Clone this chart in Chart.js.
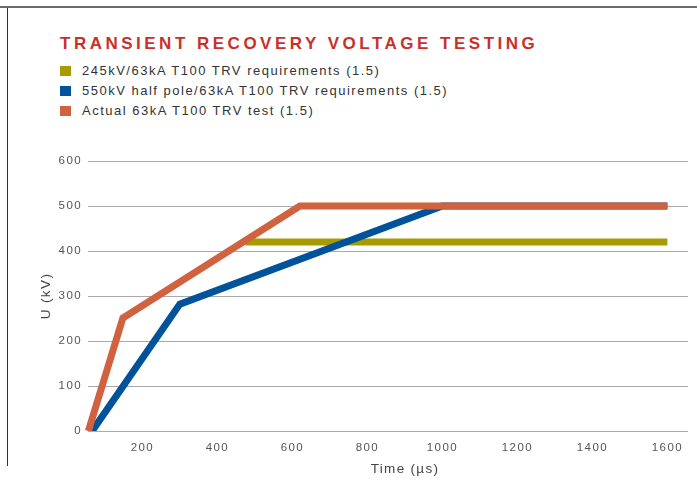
<!DOCTYPE html>
<html>
<head>
<meta charset="utf-8">
<script src="https://cdn.jsdelivr.net/npm/chart.js@4"></script>
<style>
  html, body { margin: 0; padding: 0; background: #fff; }
  #wrap { position: relative; width: 697px; height: 481px; overflow: hidden; font-family: 'Liberation Sans', Arial, sans-serif; }
  #topline { position: absolute; left: 0; top: 6px; width: 697px; height: 2px; background: #6b6b6b; }
  #leftline { position: absolute; left: 7px; top: 8px; width: 1px; height: 458px; background: #333; }
  #title { position: absolute; left: 60px; top: 34px; line-height: 20px; font-size: 17px; font-weight: bold; color: #c8302a; letter-spacing: 3.5px; white-space: nowrap; }
  #legend { position: absolute; left: 60px; top: 61px; }
  .row { height: 20px; line-height: 20px; font-size: 13px; color: #333; letter-spacing: 1.5px; white-space: nowrap; position: relative; }
  .sw { position: absolute; left: 0; top: 5px; width: 11px; height: 10px; }
  .txt { position: absolute; left: 22px; top: 0; }
  #xtitle { position: absolute; left: 305px; width: 200px; top: 460px; line-height: 18px; text-align: center; font-size: 13.5px; color: #444; letter-spacing: 1.3px; }
  canvas { position: absolute; left: 0; top: 0; }
</style>
</head>
<body>
<div id="wrap">
  <div id="topline"></div>
  <div id="leftline"></div>
  <div id="title"></div>
  <div id="legend"></div>
  <canvas id="c" width="697" height="481"></canvas>
  <div id="xtitle"></div>
</div>
<script>
// --- dados ---
const titulo = 'TRANSIENT RECOVERY VOLTAGE TESTING';
const tituloX = 'Time (µs)';
const tituloY = 'U (kV)';
const nomes = [
  '245kV/63kA T100 TRV requirements (1.5)',
  '550kV half pole/63kA T100 TRV requirements (1.5)',
  'Actual 63kA T100 TRV test (1.5)'
];
const cores = ['#a89b00', '#00529b', '#d0623f'];

// 245kV requisito (linha horizontal)
const req245T = [475, 1600];
const req245U = [420, 420];
// 550kV meio polo requisito
const req550T = [66, 300, 1000, 1600];
const req550U = [0, 282, 500, 500];
// ensaio real
const ensaioT = [56, 148, 620, 1600];
const ensaioU = [0, 251, 500, 500];

const xTicks = [200, 400, 600, 800, 1000, 1200, 1400, 1600];
const yTicks = [0, 100, 200, 300, 400, 500, 600];

const pares = (ts, us) => ts.map((t, i) => ({ x: t, y: us[i] }));

document.getElementById('title').textContent = titulo;
document.getElementById('xtitle').textContent = tituloX;

// legenda em HTML
const leg = document.getElementById('legend');
nomes.forEach((n, i) => {
  const r = document.createElement('div');
  r.className = 'row';
  r.innerHTML = `<span class="sw" style="background:${cores[i]}"></span><span class="txt">${n}</span>`;
  leg.appendChild(r);
});

// espaçamento de letras no canvas
const spacingPlugin = {
  id: 'spacing',
  beforeDraw(chart) { chart.ctx.letterSpacing = '1.4px'; }
};

const fonte = "'Liberation Sans', Arial, sans-serif";
const recorte = { left: 12, top: 12, right: 12, bottom: 0 };

new Chart(document.getElementById('c'), {
  type: 'line',
  data: {
    datasets: [
      { label: nomes[0], data: pares(req245T, req245U), borderColor: cores[0], order: 3, clip: recorte },
      { label: nomes[1], data: pares(req550T, req550U), borderColor: cores[1], order: 2, clip: recorte },
      { label: nomes[2], data: pares(ensaioT, ensaioU), borderColor: cores[2], order: 1, clip: recorte }
    ]
  },
  options: {
    responsive: false,
    animation: false,
    layout: { padding: { top: 161, left: 38, right: 9, bottom: 4 } },
    elements: {
      line: { borderWidth: 7, tension: 0, borderJoinStyle: 'miter', borderCapStyle: 'butt' },
      point: { radius: 0 }
    },
    plugins: {
      legend: { display: false },
      title: { display: false },
      tooltip: { enabled: false }
    },
    scales: {
      x: {
        type: 'linear',
        min: 55,
        max: 1655,
        afterBuildTicks: (ax) => { ax.ticks = xTicks.map(v => ({ value: v })); },
        afterFit: (ax) => { ax.height = 46; },
        grid: { display: false, drawTicks: false },
        border: { display: false },
        ticks: { color: '#555', font: { family: fonte, size: 11.5 }, padding: 10, maxRotation: 0, callback: (v) => String(v) },
        title: { display: false }
      },
      y: {
        min: 0,
        max: 600,
        afterBuildTicks: (ax) => { ax.ticks = yTicks.map(v => ({ value: v })); },
        afterFit: (ax) => { ax.width = 50; },
        grid: { color: '#aaa', lineWidth: 1, drawTicks: false },
        border: { display: false },
        ticks: { color: '#555', font: { family: fonte, size: 11.5 }, padding: 6, callback: (v) => String(v) },
        title: { display: true, text: tituloY, color: '#444', font: { family: fonte, size: 13.5 }, padding: { top: 0, bottom: 0 } }
      }
    }
  },
  plugins: [spacingPlugin]
});
</script>
</body>
</html>
